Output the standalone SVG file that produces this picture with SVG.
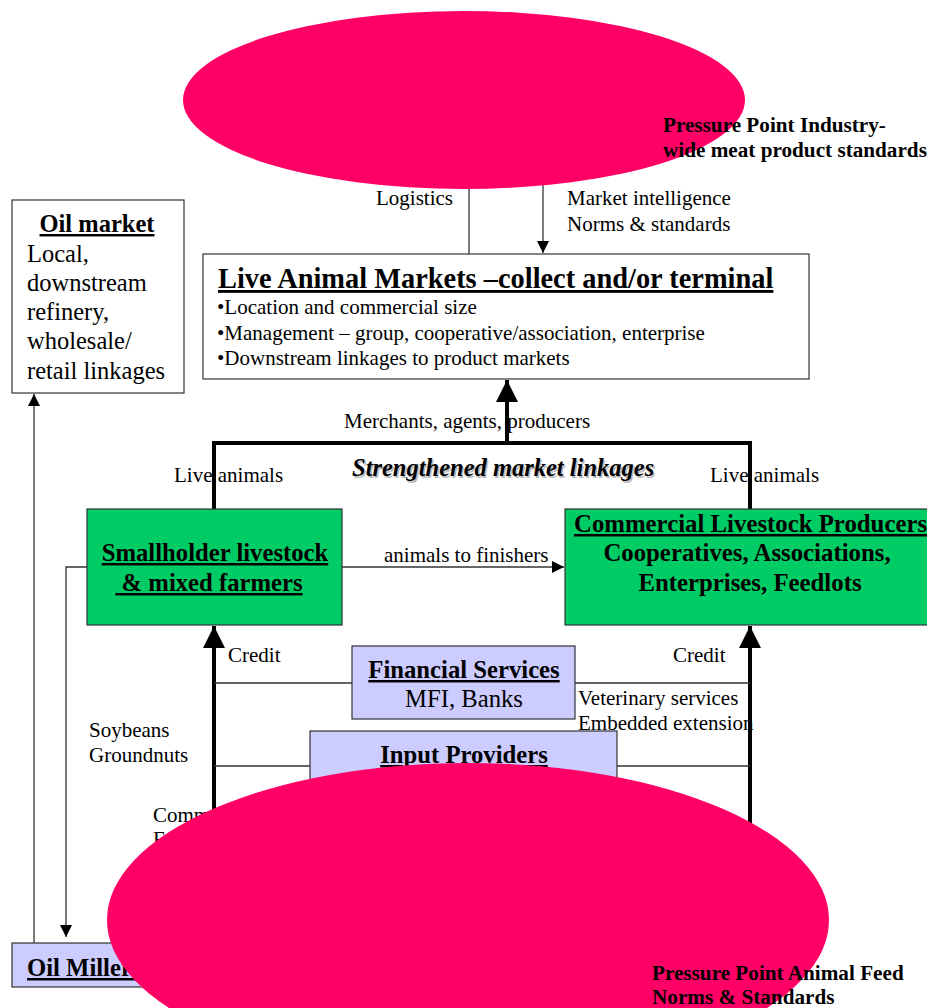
<svg xmlns="http://www.w3.org/2000/svg" width="927" height="1008" viewBox="0 0 927 1008">
<defs>
<style>
text{font-family:"Liberation Serif","Times New Roman",serif;fill:#000}
.lbl{font-size:21px}
.b{font-weight:bold}
.u{text-decoration:underline}
.box{stroke:#333;stroke-width:1.2}
.thin{stroke:#333;stroke-width:1.3;fill:none}
.thick{stroke:#000;stroke-width:4;fill:none}
.pp{fill:#FF0066}
</style>
<marker id="ah" markerWidth="12" markerHeight="12" refX="10" refY="5" orient="auto" markerUnits="userSpaceOnUse" viewBox="0 0 10 10">
<path d="M0,0 L10,5 L0,10 z" fill="#000"/>
</marker>
<marker id="ahb" markerWidth="22" markerHeight="22" refX="10" refY="5" orient="auto" markerUnits="userSpaceOnUse" viewBox="0 0 10 10">
<path d="M0,0 L10,5 L0,10 z" fill="#000"/>
</marker>
</defs>
<rect width="927" height="1008" fill="#fff"/>

<g id="connectors">
<line class="thin" x1="469" y1="185" x2="469" y2="254"/>
<line class="thin" x1="543" y1="185" x2="543" y2="253" marker-end="url(#ah)"/>
<line class="thin" x1="34" y1="943" x2="34" y2="394" marker-end="url(#ah)"/>
<polyline class="thick" points="214,509 214,443 750,443 750,509"/>
<line class="thick" x1="507" y1="443" x2="507" y2="380" marker-end="url(#ahb)"/>
<line class="thin" x1="342" y1="567" x2="564" y2="567" marker-end="url(#ah)"/>
<polyline class="thin" points="87,567 66,567 66,937" marker-end="url(#ah)"/>
<line class="thick" x1="214" y1="900" x2="214" y2="626" marker-end="url(#ahb)"/>
<line class="thick" x1="750" y1="900" x2="750" y2="626" marker-end="url(#ahb)"/>
<line class="thin" x1="214" y1="683" x2="352" y2="683"/>
<line class="thin" x1="575" y1="683" x2="750" y2="683"/>
<line class="thin" x1="214" y1="766" x2="310" y2="766"/>
<line class="thin" x1="617" y1="766" x2="750" y2="766"/>
</g>

<g id="labels">
<text class="lbl" x="376" y="205">Logistics</text>
<text class="lbl" x="567" y="205">Market intelligence</text>
<text class="lbl" x="567" y="231">Norms &amp; standards</text>
<text class="lbl" x="344" y="428">Merchants, agents, producers</text>
<text x="353.5" y="477.5" font-size="24.5" font-weight="bold" font-style="italic" style="fill:#bbb">Strengthened market linkages</text>
<text x="352" y="476" font-size="24.5" font-weight="bold" font-style="italic">Strengthened market linkages</text>
<text class="lbl" x="174" y="482">Live animals</text>
<text class="lbl" x="710" y="482">Live animals</text>
<text class="lbl" x="384" y="562">animals to finishers</text>
<text class="lbl" x="228" y="662">Credit</text>
<text class="lbl" x="673" y="662">Credit</text>
<text class="lbl" x="578" y="705">Veterinary services</text>
<text class="lbl" x="578" y="730">Embedded extension</text>
<text class="lbl" x="89" y="737">Soybeans</text>
<text class="lbl" x="89" y="762">Groundnuts</text>
<text class="lbl" x="153" y="822">Commercial</text>
<text class="lbl" x="153" y="846">Feed</text>
</g>

<g id="oil-market">
<rect class="box" x="12" y="200" width="172" height="193" fill="#fff"/>
<text x="97" y="232" font-size="24.5" class="b u" text-anchor="middle">Oil market</text>
<text x="27" y="262" font-size="24.5">Local,</text>
<text x="27" y="291" font-size="24.5">downstream</text>
<text x="27" y="320" font-size="24.5">refinery,</text>
<text x="27" y="349" font-size="24.5">wholesale/</text>
<text x="27" y="379" font-size="24.5">retail linkages</text>
</g>

<g id="live-animal-markets">
<rect class="box" x="203" y="254" width="606" height="125" fill="#fff"/>
<text x="218" y="288" font-size="28.4" class="b u">Live Animal Markets –collect and/or terminal</text>
<text class="lbl" x="217" y="314">•Location and commercial size</text>
<text class="lbl" x="217" y="340">•Management – group, cooperative/association, enterprise</text>
<text class="lbl" x="217" y="365">•Downstream linkages to product markets</text>
</g>

<g id="smallholder">
<rect class="box" x="87" y="509" width="255" height="116" fill="#00CC66"/>
<text x="215" y="561" font-size="24.7" class="b u" text-anchor="middle">Smallholder livestock</text>
<text x="209" y="591" font-size="24.7" class="b u" text-anchor="middle" xml:space="preserve"> &amp; mixed farmers</text>
</g>

<g id="commercial">
<rect class="box" x="565" y="509" width="370" height="116" fill="#00CC66"/>
<text x="574" y="532" font-size="24.8" class="b u">Commercial Livestock Producers</text>
<text x="747" y="561" font-size="24.8" class="b" text-anchor="middle">Cooperatives, Associations,</text>
<text x="750" y="591" font-size="24.8" class="b" text-anchor="middle">Enterprises, Feedlots</text>
</g>

<g id="financial-services">
<rect class="box" x="352" y="646" width="223" height="73" fill="#CCCCFF"/>
<text x="464" y="678" font-size="24.7" class="b u" text-anchor="middle">Financial Services</text>
<text x="464" y="707" font-size="24.7" text-anchor="middle">MFI, Banks</text>
</g>

<g id="input-providers">
<rect class="box" x="310" y="731" width="307" height="110" fill="#CCCCFF"/>
<text x="464" y="763" font-size="24.7" class="b u" text-anchor="middle">Input Providers</text>
</g>

<g id="oil-millers">
<rect class="box" x="12" y="943" width="160" height="44" fill="#CCCCFF"/>
<text x="27" y="976" font-size="24.7" class="b u">Oil Millers</text>
</g>

<g id="pressure-point-industry">
<ellipse class="pp" cx="464" cy="100" rx="281" ry="89"/>
<text x="663" y="132" font-size="21.2" class="b">Pressure Point Industry-</text>
<text x="663" y="157" font-size="21.2" class="b">wide meat product standards</text>
</g>

<g id="pressure-point-feed">
<ellipse class="pp" cx="468" cy="920" rx="361" ry="157"/>
<text x="652" y="980" font-size="21.2" class="b">Pressure Point Animal Feed</text>
<text x="652" y="1004" font-size="21.2" class="b">Norms &amp; Standards</text>
</g>
</svg>
